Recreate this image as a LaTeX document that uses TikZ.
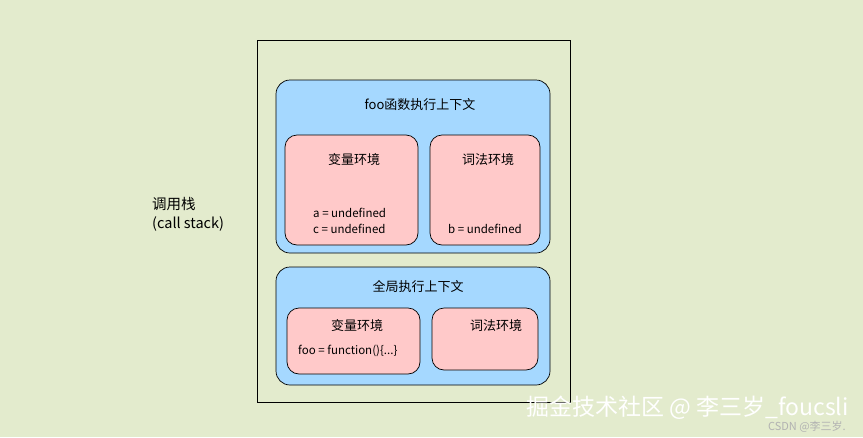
\documentclass[tikz,border=0pt]{standalone}
\usepackage{fontspec}
\setmainfont{Noto Sans CJK SC}
\definecolor{bg}{HTML}{E3EBCD}
\definecolor{blu}{HTML}{A5D8FF}
\definecolor{pnk}{HTML}{FFC9C9}
\begin{document}
\begin{tikzpicture}[x=1pt,y=-1pt,
  ctx/.style={draw=black,fill=blu,rounded corners=14pt,line width=0.7pt},
  env/.style={draw=black,fill=pnk,rounded corners=12pt,line width=0.7pt},
  lbl/.style={font=\fontsize{13}{15}\selectfont,inner sep=0pt},
  val/.style={font=\fontsize{11.5}{16}\selectfont,inner sep=0pt,align=left}]
\fill[bg] (0,0) rectangle (863,437);
\useasboundingbox (0,0) rectangle (863,437);
\node[draw=black,line width=0.6pt,minimum width=313pt,minimum height=362pt,inner sep=0pt] (stack) at (413.5,221) {};
\node[lbl,align=left,anchor=west,font=\fontsize{14.5}{19}\selectfont] (cs) at (152,214) {调用栈\\(call stack)};
\node[ctx,minimum width=274pt,minimum height=173pt] (foo) at (413,166.5) {};
\node[lbl] (foot) at (420,105) {foo函数执行上下文};
\node[env,minimum width=133pt,minimum height=110pt] (fv) at (351.5,190) {};
\node[lbl] (fvt) at (354,160) {变量环境};
\node[val,anchor=west] (fvv) at (313,221) {a = undefined\\c = undefined};
\node[env,minimum width=110pt,minimum height=110pt] (fl) at (485,190) {};
\node[lbl] (flt) at (488,160) {词法环境};
\node[val,anchor=west] (flv) at (448,229) {b = undefined};
\node[ctx,minimum width=274pt,minimum height=118pt] (glob) at (413,326) {};
\node[lbl] (globt) at (418,287) {全局执行上下文};
\node[env,minimum width=133pt,minimum height=66pt] (gv) at (353.5,341) {};
\node[lbl] (gvt) at (357,326) {变量环境};
\node[val,anchor=west] (gvv) at (298,351) {foo = function()\{...\}};
\node[env,minimum width=106pt,minimum height=62pt] (gl) at (485,339) {};
\node[lbl] (glt) at (496,326) {词法环境};
\node[font=\fontsize{23}{25}\selectfont,text=white,inner sep=0pt,anchor=east] (wm) at (849,408) {掘金技术社区 @ 李三岁\_foucsli};
\node[font=\fontsize{11}{13}\selectfont,text=gray!60,inner sep=0pt,anchor=east] (wm2) at (846,427) {CSDN @李三岁.};
\end{tikzpicture}
\end{document}
